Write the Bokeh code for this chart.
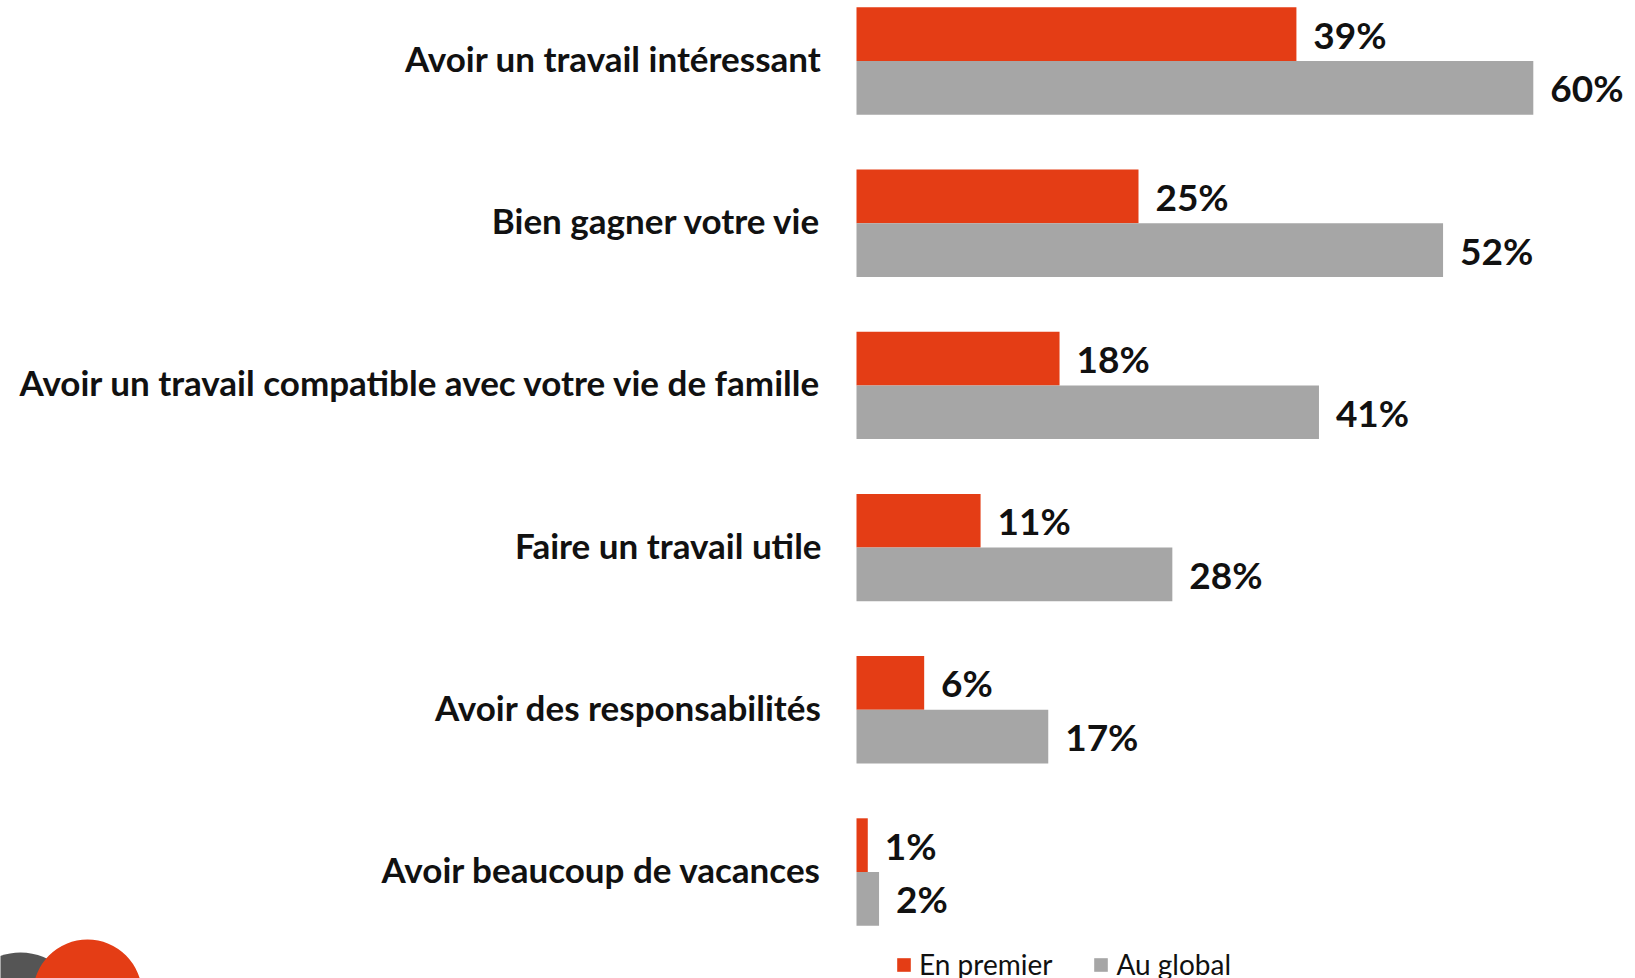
from bokeh.plotting import figure
from bokeh.models import Range1d, ColumnDataSource, Legend, LegendItem
from bokeh.core.properties import value
from bokeh.embed import file_html
from bokeh.resources import INLINE

categories = [
    "Avoir un travail intéressant",
    "Bien gagner votre vie",
    "Avoir un travail compatible avec votre vie de famille",
    "Faire un travail utile",
    "Avoir des responsabilités",
    "Avoir beaucoup de vacances",
]
en_premier = [39, 25, 18, 11, 6, 1]
au_global = [60, 52, 41, 28, 17, 2]
series_names = ["En premier", "Au global"]

RED = "#E43D15"
GRAY = "#A6A6A6"
FONT = "Lato"

W, H = 1635, 978
PX_PER_UNIT = 11.28
X0_PX = 856
x_start = -X0_PX / PX_PER_UNIT
x_end = x_start + W / PX_PER_UNIT
GROUP_PX = 162.2
y_top = -60.5 / GROUP_PX
y_bottom = y_top + H / GROUP_PX
BAR_H = 53.7 / GROUP_PX

p = figure(width=W, height=H, output_backend="svg", toolbar_location=None,
           x_range=Range1d(x_start, x_end), y_range=Range1d(y_bottom, y_top),
           min_border=0, outline_line_color=None)
p.axis.visible = False
p.grid.visible = False
p.background_fill_color = "white"

idx = list(range(len(categories)))
src = ColumnDataSource(dict(
    y=idx,
    y_red=[i - BAR_H / 2 for i in idx],
    y_gray=[i + BAR_H / 2 for i in idx],
    cat=categories,
    red=en_premier,
    gray=au_global,
    red_lbl=[f"{v}%" for v in en_premier],
    gray_lbl=[f"{v}%" for v in au_global],
    red_x=[v + 1.5 for v in en_premier],
    gray_x=[v + 1.5 for v in au_global],
))

r_red = p.hbar(y="y_red", right="red", left=0, height=BAR_H, source=src,
               fill_color=RED, line_color=None)
r_gray = p.hbar(y="y_gray", right="gray", left=0, height=BAR_H, source=src,
                fill_color=GRAY, line_color=None)

p.text(x=-3.1, y="y", text="cat", source=src, text_align="right",
       text_baseline="middle", y_offset=-3, text_font=value(FONT), text_font_style="bold",
       text_font_size="35px", text_color="#111111")
p.text(x="red_x", y="y_red", text="red_lbl", source=src, text_align="left",
       text_baseline="middle", y_offset=0, text_font=value(FONT), text_font_style="bold",
       text_font_size="37px", text_color="#111111")
p.text(x="gray_x", y="y_gray", text="gray_lbl", source=src, text_align="left",
       text_baseline="middle", y_offset=0, text_font=value(FONT), text_font_style="bold",
       text_font_size="37px", text_color="#111111")

# logo decoration (bottom-left)
p.scatter(x=[x_start + 20 / PX_PER_UNIT], y=[y_top + 1012 / GROUP_PX], size=120,
          marker="circle", fill_color="#555555", line_color=None)
p.scatter(x=[x_start + 87 / PX_PER_UNIT], y=[y_top + 993.5 / GROUP_PX], size=109,
          marker="circle", fill_color=RED, line_color=None)
p.text(x=[x_start + 85 / PX_PER_UNIT], y=[y_top + 991 / GROUP_PX], text=["BVA"],
       text_align="center", text_baseline="middle", text_font=value(FONT),
       text_font_style="bold", text_font_size="40px", text_color="white")

legend = Legend(items=[LegendItem(label=series_names[0], renderers=[r_red]),
                       LegendItem(label=series_names[1], renderers=[r_gray])],
                orientation="horizontal", location=(895, -3),
                label_text_font=FONT, label_text_font_size="28px",
                label_text_color="#111111",
                glyph_width=17, glyph_height=17, label_standoff=7, spacing=40,
                padding=0, margin=0, border_line_alpha=0, background_fill_alpha=0)
p.add_layout(legend, "center")

open("out.html", "w").write(file_html(p, INLINE))
